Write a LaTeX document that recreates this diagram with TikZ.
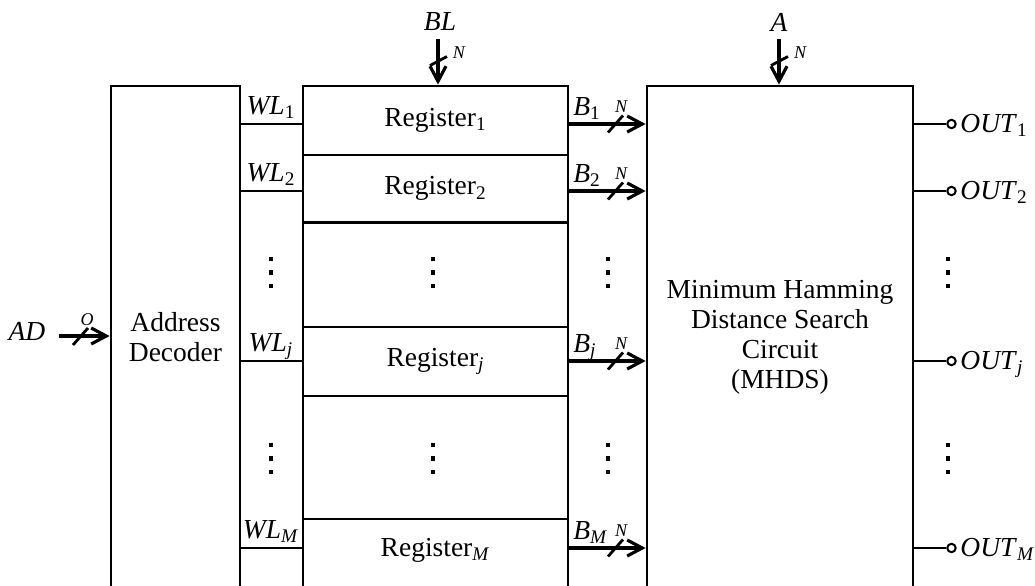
\documentclass[tikz,border=0pt]{standalone}
\usepackage{fontspec}
\setmainfont{Liberation Serif}
\usetikzlibrary{arrows.meta,calc}
\begin{document}
\begin{tikzpicture}[x=0.5pt,y=-0.5pt,
  box/.style={draw, line width=1.4pt, inner sep=0pt},
  wire/.style={line width=1.4pt},
  bus/.style={line width=2.2pt, -{Straight Barb[length=7.5pt,width=8pt,line width=1.6pt]}},
  lbl/.style={font=\fontsize{13.75}{15}\selectfont, inner sep=0pt},
  small/.style={font=\fontsize{9}{10}\selectfont\itshape, inner sep=0pt},
  dot/.style={fill, rectangle, minimum size=2.1pt, inner sep=0pt},
  term/.style={draw, circle, line width=1pt, minimum size=4.2pt, inner sep=0pt}]
\useasboundingbox (0,0) rectangle (1035,585);
\clip (0,0) rectangle (1035,585);
% blocks
\node[box, minimum width=64.5pt, minimum height=267pt] (dec) at (175.5,353) {};
\node[lbl, align=center] (dectext) at (175.5,337.5) {Address\\Decoder};
\node[box, minimum width=133pt, minimum height=267pt] (mhds) at (780,353) {};
\node[lbl, align=center] (mhdstext) at (780,337.5) {Minimum Hamming\\Distance Search\\Circuit\\(MHDS)};
\node[box, lbl, minimum width=132.5pt, minimum height=34.5pt] (reg1) at (435.5,120.5) {Register\textsubscript{1}};
\node[box, lbl, minimum width=132.5pt, minimum height=33.85pt] (reg2) at (435.5,188.85) {Register\textsubscript{2}};
\node[box, minimum width=132.5pt, minimum height=52.15pt] (regd1) at (435.5,274.85) {};
\node[box, lbl, minimum width=132.5pt, minimum height=34.5pt] (regj) at (435.5,361.5) {Register\textsubscript{\textit{j}}};
\node[box, minimum width=132.5pt, minimum height=61.5pt] (regd2) at (435.5,457.5) {};
\node[box, minimum width=132.5pt, minimum height=50.5pt] (regM) at (435.5,569.5) {};
\node[lbl] (regMtext) at (435.5,550) {Register\textsubscript{\textit{M}}};
% rows
\foreach \n/\y/\s in {1/124/1, 2/191/2, j/361/\textit{j}, M/548/\textit{M}} {
  \coordinate (y\n) at (0,\y);
  \draw[wire] (dec.east |- y\n) -- (reg\n.west |- y\n);
  \node[lbl, anchor=base] (wl\n) at (271,\y-10) {\textit{WL}\textsubscript{\s}};
  \draw[bus] (reg\n.east |- y\n) -- (mhds.west |- y\n);
  \node[lbl, anchor=base west] (b\n) at (573,\y-9) {\textit{B}\textsubscript{\s}};
  \draw[wire] (608,\y+8.5) -- (623,\y-8.5);
  \node[small, anchor=base] (bn\n) at (621,\y-12) {N};
  \node[term] (o\n) at (951.5,\y) {};
  \draw[wire] (mhds.east |- y\n) -- (o\n);
  \node[lbl, anchor=base west] (out\n) at (960,\y+8) {\textit{OUT}\textsubscript{\s}};
}
% dots
\foreach \x in {271,433,608,948} {
  \foreach \yy in {259,272.5,286,445,458.5,472} {
    \node[dot] at (\x,\yy) {};
  }
}
% BL input
\node[lbl] (bl) at (440,22) {\textit{BL}};
\coordinate (blin) at (438,39);
\draw[bus] (blin) -- (blin |- reg1.north);
\draw[wire] (430,65.5) -- (447,56.5);
\node[small, anchor=base] (bln) at (459,58) {N};
% A input
\node[lbl] (a) at (779,22) {\textit{A}};
\coordinate (ain) at (779,39);
\draw[bus] (ain) -- (ain |- mhds.north);
\draw[wire] (771,65.5) -- (788,56.5);
\node[small, anchor=base] (an) at (800,58) {N};
% AD input
\node[lbl] (ad) at (27,331) {\textit{AD}};
\coordinate (adin) at (59,336);
\draw[bus] (adin) -- (adin -| dec.west);
\draw[wire] (73,345) -- (88,328);
\node[small, anchor=base] (ado) at (87,325) {O};
\end{tikzpicture}
\end{document}
